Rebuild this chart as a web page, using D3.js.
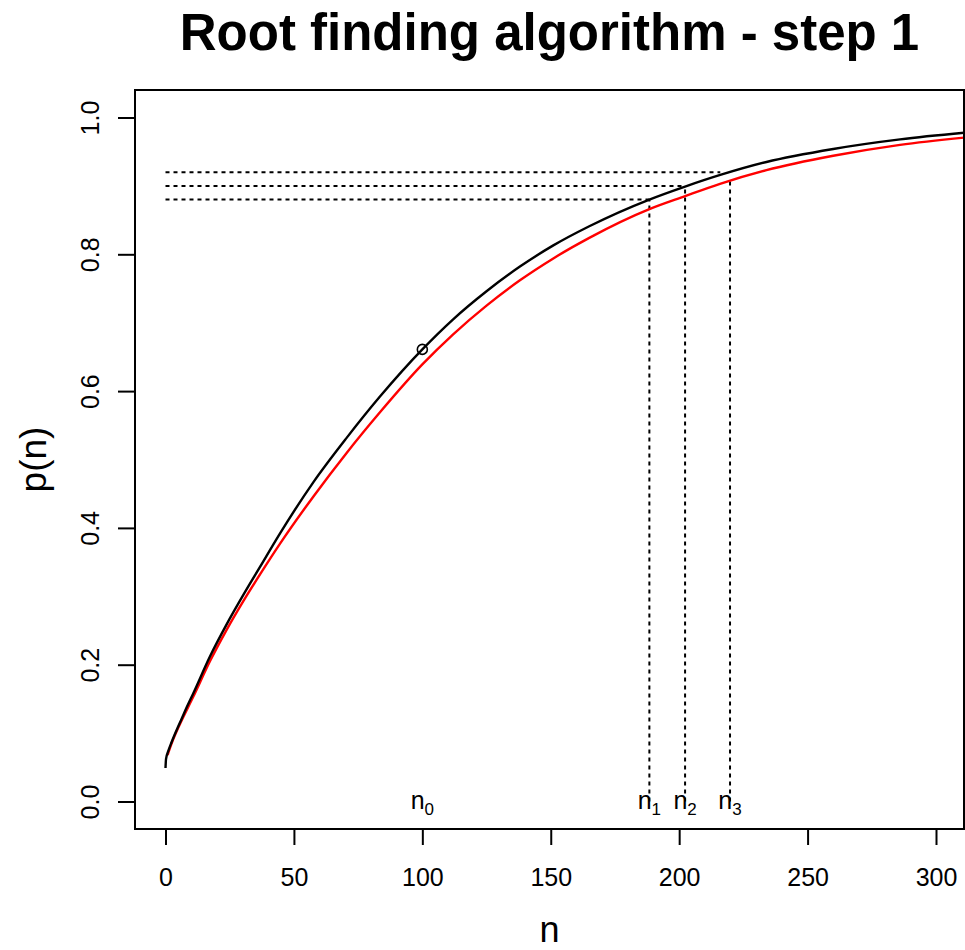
<!DOCTYPE html>
<html>
<head>
<meta charset="utf-8">
<script src="https://cdn.jsdelivr.net/npm/d3@7"></script>
<style>
  html, body { margin: 0; padding: 0; background: #fff; }
  svg { display: block; font-family: "Liberation Sans", Arial, sans-serif; }
</style>
</head>
<body>
<script>
// p(n) curve, current estimate (black)
const nBlack = [0, 0.2, 1.1, 2.4, 4.4, 6.3, 8.3, 10.8, 17.3, 23.8, 30.3, 36.8, 44.6, 57.6, 70.6, 83.5, 100, 112, 125, 138, 151, 165, 188.4, 202.3, 216, 234, 260, 286, 312];
const pBlack = [0.049, 0.062, 0.074, 0.087, 0.105, 0.121, 0.138, 0.158, 0.212, 0.259, 0.302, 0.343, 0.392, 0.467, 0.532, 0.592, 0.661, 0.705, 0.746, 0.782, 0.813, 0.841, 0.880, 0.899, 0.916, 0.935, 0.954, 0.968, 0.978];

// p(n) curve, target (red)
const nRed = [0.8, 2.4, 5.6, 10.8, 17.3, 23.8, 30.3, 36.8, 44.6, 57.6, 70.6, 83.5, 100, 112, 125, 138, 151, 165, 188.4, 202.3, 215.9, 234, 260, 286, 312];
const pRed = [0.068, 0.085, 0.113, 0.153, 0.205, 0.251, 0.293, 0.332, 0.377, 0.446, 0.510, 0.569, 0.639, 0.683, 0.725, 0.762, 0.794, 0.824, 0.866, 0.885, 0.903, 0.923, 0.944, 0.960, 0.971];

// starting point
const n0 = 100, p0 = 0.661;

// horizontal guides: level and where they stop
const hLevel = [0.88, 0.90, 0.92];
const hEnd = [188.4, 202.3, 216];

// vertical guides: iterate positions and their heights
const vN = [188.4, 202.3, 219.8];
const vTop = [0.88, 0.90, 0.907];

// labels along p = 0
const labN = [100, 188.4, 202.3, 219.8];
const labSub = ["0", "1", "2", "3"];

const xTicks = [0, 50, 100, 150, 200, 250, 300];
const yTicks = [0, 0.2, 0.4, 0.6, 0.8, 1.0];

const W = 965, H = 950;
const box = { left: 135, right: 964, top: 90, bottom: 829 };

const x = d3.scaleLinear().domain([0, 300]).range([165.5, 936]);
const y = d3.scaleLinear().domain([0, 1]).range([801.5, 117.5]);

const svg = d3.select("body").append("svg")
  .attr("width", W)
  .attr("height", H);

svg.append("defs").append("clipPath")
  .attr("id", "plotclip")
  .append("rect")
  .attr("x", box.left)
  .attr("y", box.top)
  .attr("width", box.right - box.left)
  .attr("height", box.bottom - box.top);

// title
svg.append("text")
  .attr("x", (box.left + box.right) / 2)
  .attr("y", 50)
  .attr("text-anchor", "middle")
  .attr("font-size", "51px")
  .attr("font-weight", "bold")
  .text("Root finding algorithm - step 1");

// axes
const xAxis = svg.append("g")
  .attr("transform", `translate(0,${box.bottom})`)
  .call(d3.axisBottom(x).tickValues(xTicks).tickSize(16).tickPadding(23).tickFormat(d3.format("d")));
xAxis.select(".domain").remove();
xAxis.selectAll("line").attr("stroke", "#000").attr("stroke-width", 2);
xAxis.selectAll("text").attr("font-size", "25px").attr("fill", "#000").attr("font-family", null);

const yAxis = svg.append("g")
  .attr("transform", `translate(${box.left},0)`)
  .call(d3.axisLeft(y).tickValues(yTicks).tickSize(17).tickFormat(d3.format(".1f")));
yAxis.select(".domain").remove();
yAxis.selectAll("line").attr("stroke", "#000").attr("stroke-width", 2);
yAxis.selectAll("text")
  .attr("font-size", "25px")
  .attr("fill", "#000")
  .attr("font-family", null)
  .attr("x", null)
  .attr("dy", null)
  .attr("text-anchor", "middle")
  .attr("transform", "translate(-36,0) rotate(-90)");

// axis titles
svg.append("text")
  .attr("x", (box.left + box.right) / 2)
  .attr("y", 942)
  .attr("text-anchor", "middle")
  .attr("font-size", "36px")
  .text("n");

svg.append("text")
  .attr("transform", `translate(46,${(box.top + box.bottom) / 2}) rotate(-90)`)
  .attr("text-anchor", "middle")
  .attr("font-size", "37px")
  .text("p(n)");

const plot = svg.append("g").attr("clip-path", "url(#plotclip)");

// guide lines
const dots = "4,4";
plot.append("g")
  .selectAll("line")
  .data(hLevel)
  .join("line")
  .attr("x1", x(0))
  .attr("x2", (d, i) => x(hEnd[i]))
  .attr("y1", d => y(d))
  .attr("y2", d => y(d))
  .attr("stroke", "#000")
  .attr("stroke-width", 2)
  .attr("stroke-dasharray", dots);

plot.append("g")
  .selectAll("line")
  .data(vN)
  .join("line")
  .attr("x1", d => x(d))
  .attr("x2", d => x(d))
  .attr("y1", y(0))
  .attr("y2", (d, i) => y(vTop[i]))
  .attr("stroke", "#000")
  .attr("stroke-width", 2)
  .attr("stroke-dasharray", dots);

// curves
const line = d3.line()
  .x(d => x(d[0]))
  .y(d => y(d[1]))
  .curve(d3.curveMonotoneX);

plot.append("path")
  .datum(nRed.map((n, i) => [n, pRed[i]]))
  .attr("d", line)
  .attr("fill", "none")
  .attr("stroke", "#ff0000")
  .attr("stroke-width", 2.4);

plot.append("path")
  .datum(nBlack.map((n, i) => [n, pBlack[i]]))
  .attr("d", line)
  .attr("fill", "none")
  .attr("stroke", "#000")
  .attr("stroke-width", 2.4);

plot.append("circle")
  .attr("cx", x(n0))
  .attr("cy", y(p0))
  .attr("r", 5)
  .attr("fill", "none")
  .attr("stroke", "#000")
  .attr("stroke-width", 1.6);

// n_i labels
const lab = svg.append("g")
  .selectAll("text")
  .data(labN)
  .join("text")
  .attr("x", d => x(d))
  .attr("y", 809)
  .attr("text-anchor", "middle")
  .attr("font-size", "25px")
  .attr("fill", "#000");
lab.append("tspan").text("n");
lab.append("tspan")
  .attr("font-size", "17px")
  .attr("dy", 6)
  .text((d, i) => labSub[i]);

// box
svg.append("rect")
  .attr("x", box.left)
  .attr("y", box.top)
  .attr("width", box.right - box.left)
  .attr("height", box.bottom - box.top)
  .attr("fill", "none")
  .attr("stroke", "#000")
  .attr("stroke-width", 2);
</script>
</body>
</html>
